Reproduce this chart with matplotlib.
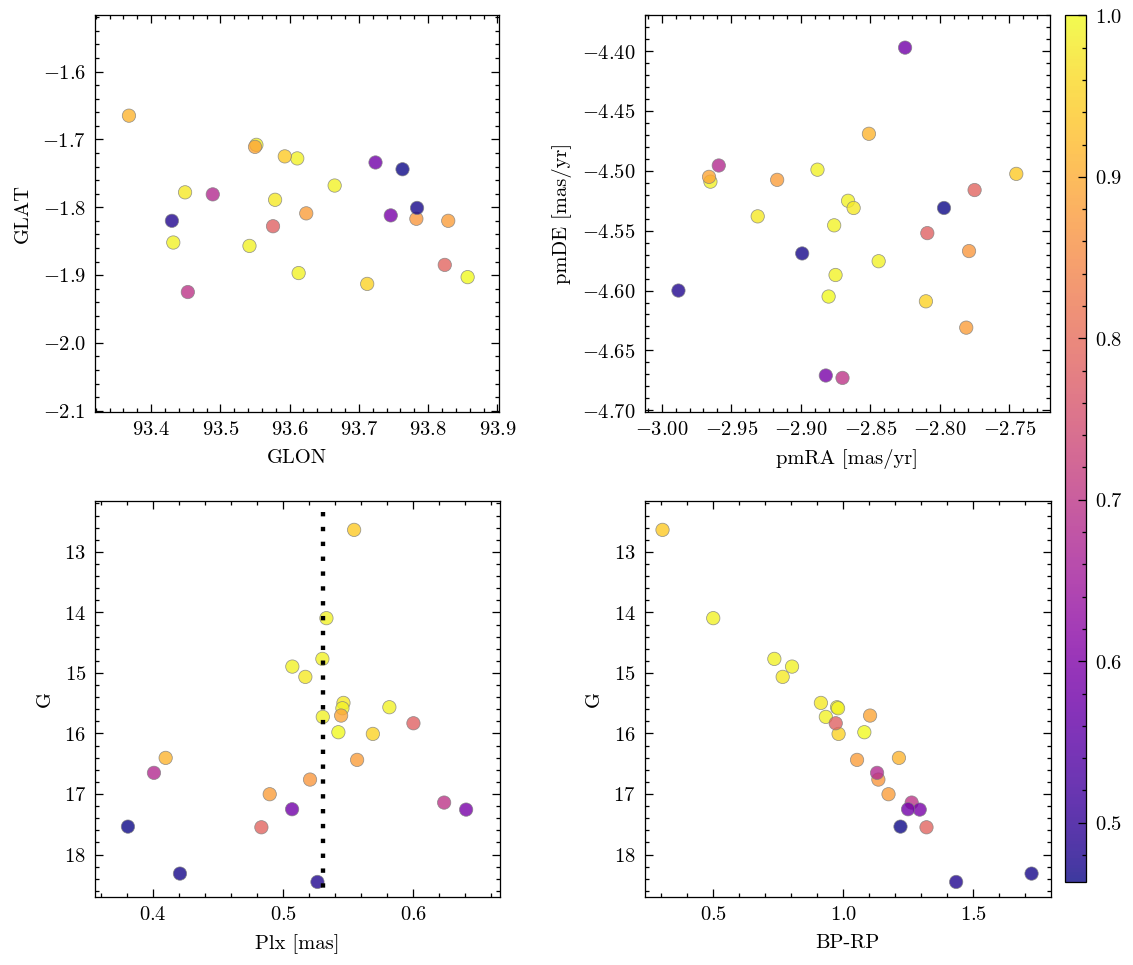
import numpy as np
import matplotlib
matplotlib.use("Agg")
import matplotlib.pyplot as plt
from matplotlib.ticker import AutoMinorLocator

# ---------------- data (one row per star) ----------------
glon = [93.857, 93.552, 93.611, 93.665, 93.449, 93.579, 93.432, 93.542, 93.613, 93.712,
        93.593, 93.368, 93.550, 93.624, 93.783, 93.829,
        93.824, 93.576, 93.453, 93.489, 93.746, 93.724, 93.430, 93.784, 93.763]
glat = [-1.903, -1.708, -1.728, -1.768, -1.778, -1.789, -1.852, -1.857, -1.897, -1.913,
        -1.725, -1.665, -1.711, -1.809, -1.817, -1.820,
        -1.885, -1.828, -1.925, -1.781, -1.812, -1.734, -1.820, -1.801, -1.744]
pmra = [-2.880, -2.965, -2.888, -2.866, -2.862, -2.931, -2.876, -2.844, -2.875, -2.810,
        -2.745, -2.851, -2.966, -2.917, -2.779, -2.781,
        -2.775, -2.809, -2.870, -2.959, -2.882, -2.825, -2.988, -2.899, -2.797]
pmde = [-4.605, -4.509, -4.499, -4.525, -4.531, -4.538, -4.5455, -4.5755, -4.587, -4.609,
        -4.5025, -4.469, -4.505, -4.5075, -4.567, -4.631,
        -4.516, -4.552, -4.673, -4.4955, -4.671, -4.397, -4.600, -4.569, -4.531]
plx = [0.5423, 0.5331, 0.5300, 0.5069, 0.5169, 0.5462, 0.5815, 0.5454, 0.5303, 0.5688,
       0.5544, 0.4095, 0.5444, 0.5567, 0.5205, 0.4895,
       0.4831, 0.6000, 0.6236, 0.4005, 0.6405, 0.5067, 0.5262, 0.4205, 0.3805]
gmag = [15.979, 14.095, 14.768, 14.895, 15.065, 15.495, 15.566, 15.583, 15.726, 16.007,
        12.637, 16.403, 15.704, 16.436, 16.761, 17.003,
        17.549, 15.831, 17.141, 16.650, 17.257, 17.251, 18.452, 18.314, 17.538]
bprp = [1.081, 0.500, 0.735, 0.803, 0.767, 0.914, 0.976, 0.980, 0.933, 0.982,
        0.305, 1.214, 1.103, 1.053, 1.135, 1.174,
        1.320, 0.971, 1.263, 1.130, 1.294, 1.249, 1.434, 1.724, 1.220]
prob = [1.000, 0.99, 0.99, 0.99, 0.98, 0.98, 0.99, 0.99, 0.99, 0.95,
        0.94, 0.91, 0.89, 0.88, 0.87, 0.88,
        0.79, 0.78, 0.70, 0.68, 0.59, 0.58, 0.48, 0.47, 0.4635]

plx_cut = 0.5305
cut_g_range = [12.334, 18.69]

xlabels = ["GLON", "pmRA [mas/yr]", "Plx [mas]", "BP-RP"]
ylabels = ["GLAT", "pmDE [mas/yr]", "G", "G"]

# ---------------- style (SciencePlots-like) ----------------
plt.rcParams.update({
    "font.family": ["cmr10", "DejaVu Serif"],
    "mathtext.fontset": "cm",
    "axes.formatter.use_mathtext": True,
    "font.size": 8,
    "axes.linewidth": 0.5,
    "xtick.direction": "in", "ytick.direction": "in",
    "xtick.top": True, "ytick.right": True,
    "xtick.major.size": 3, "ytick.major.size": 3,
    "xtick.minor.size": 1.5, "ytick.minor.size": 1.5,
    "xtick.major.width": 0.5, "ytick.major.width": 0.5,
    "xtick.minor.width": 0.5, "ytick.minor.width": 0.5,
    "xtick.minor.visible": True, "ytick.minor.visible": True,
})

DPI = 185
fig = plt.figure(figsize=(1133.4 / DPI, 965.4 / DPI), dpi=DPI)

positions = [
    [0.08385, 0.57306, 0.35684, 0.41140],
    [0.56866, 0.57306, 0.35808, 0.41140],
    [0.08385, 0.07078, 0.35746, 0.41036],
    [0.56866, 0.07078, 0.35870, 0.41036],
]
axes = [fig.add_axes(p) for p in positions]

pairs = [(glon, glat), (pmra, pmde), (plx, gmag), (bprp, gmag)]
scat_kw = dict(c=prob, cmap="plasma", s=27, alpha=0.8,
               edgecolors="gray", linewidths=0.3)

sc = None
for ax, (xv, yv), xl, yl in zip(axes, pairs, xlabels, ylabels):
    sc = ax.scatter(xv, yv, **scat_kw)
    ax.set_xlabel(xl)
    ax.set_ylabel(yl)
    ax.xaxis.set_minor_locator(AutoMinorLocator())
    ax.yaxis.set_minor_locator(AutoMinorLocator())

axes[2].plot([plx_cut, plx_cut], cut_g_range, color="black",
             linestyle=(0, (1, 2.4)), linewidth=1.7, zorder=3)

axes[0].set_xlim(93.319, 93.903)
axes[0].set_ylim(-2.1015, -1.516)
axes[1].set_xlim(-3.0124, -2.7205)
axes[1].set_ylim(-4.7013, -4.3694)
axes[2].set_xlim(0.3552, 0.6667)
axes[2].set_ylim(18.695, 12.152)
axes[3].set_xlim(0.2358, 1.799)
axes[3].set_ylim(18.695, 12.152)

axes[0].set_xticks([93.4, 93.5, 93.6, 93.7, 93.8, 93.9])
axes[0].set_yticks([-1.6, -1.7, -1.8, -1.9, -2.0, -2.1])
axes[1].set_xticks([-3.00, -2.95, -2.90, -2.85, -2.80, -2.75])
axes[1].set_yticks([-4.40, -4.45, -4.50, -4.55, -4.60, -4.65, -4.70])
axes[2].set_xticks([0.4, 0.5, 0.6])
axes[3].set_xticks([0.5, 1.0, 1.5])
for ax in axes[2:]:
    ax.set_yticks([13, 14, 15, 16, 17, 18])
for ax in axes:
    ax.xaxis.set_minor_locator(AutoMinorLocator())
    ax.yaxis.set_minor_locator(AutoMinorLocator())

cax = fig.add_axes([0.9394, 0.08632, 0.01854, 0.8974])
cb = fig.colorbar(sc, cax=cax)
cb.outline.set_linewidth(0.5)
cb.ax.tick_params(which="both", direction="in", right=True, left=False)
cb.ax.yaxis.set_minor_locator(AutoMinorLocator())
cb.ax.minorticks_on()

fig.savefig("out.png", dpi=DPI)
